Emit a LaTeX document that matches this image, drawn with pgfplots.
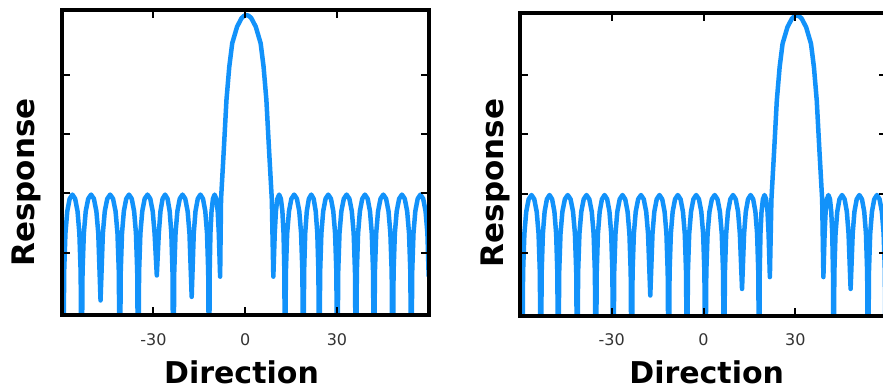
\documentclass[border=0pt]{standalone}
\usepackage{fontspec}
\setmainfont{DejaVu Sans}
\usepackage{pgfplots}
\pgfplotsset{compat=1.18}
\definecolor{beam}{RGB}{18,146,250}
\pgfplotsset{
  beamaxis/.style={
    scale only axis, anchor=south west,
    width=367pt,
    xmin=-60, xmax=60, ymin=-50.5,
    xtick={-30,0,30}, xticklabels={\mbox{-30},\mbox{0},\mbox{30}},
    ytick={-40,-30,-20,-10}, yticklabels={},
    tick align=inside, major tick length=8pt,
    tick style={line width=2pt,black},
    axis line style={line width=3.8pt},
    xticklabel style={font=\fontsize{16}{16}\selectfont, text=black!80, inner sep=0pt, anchor=north, yshift=-17.7pt},
    axis on top,
  },
  beamline/.style={beam, line width=4.5pt, line join=round, no marks}
}
\begin{document}
\begin{tikzpicture}
\useasboundingbox (0,0) rectangle (883pt,391pt);
\fill[white] (0,0) rectangle (883pt,391pt);
\clip (0,0) rectangle (883pt,391pt);
\begin{axis}[beamaxis, at={(61.7pt,75.7pt)}, height=305pt, ymax=0.8]
\addplot[beamline] coordinates {
(-59.5,-65)
(-59.2,-43.2) (-58.78,-36.7) (-58.18,-33.0) (-57.4,-30.9) (-56.5,-30.2) (-55.6,-30.9) (-54.82,-33.0) (-54.22,-36.7) (-53.8,-43.2) (-53.5,-65)
(-53.19,-43.2) (-52.76,-36.7) (-52.14,-33.0) (-51.33,-30.9) (-50.4,-30.2) (-49.47,-30.9) (-48.66,-33.0) (-48.04,-36.7) (-47.3,-48)
(-46.54,-36.7) (-45.91,-33.0) (-45.10,-30.9) (-44.15,-30.2) (-43.21,-30.9) (-42.39,-33.0) (-41.76,-36.7) (-41.32,-43.2) (-41.0,-65)
(-40.7,-43.2) (-40.28,-36.7) (-39.68,-33.0) (-38.9,-30.9) (-38.0,-30.2) (-37.1,-30.9) (-36.32,-33.0) (-35.72,-36.7) (-35.3,-43.2) (-35.0,-65)
(-34.70,-43.2) (-34.27,-36.7) (-33.66,-33.0) (-32.87,-30.9) (-31.95,-30.2) (-31.04,-30.9) (-30.24,-33.0) (-29.63,-36.7) (-28.9,-43.8)
(-28.25,-36.7) (-27.71,-33.0) (-27.01,-30.9) (-26.2,-30.2) (-25.39,-30.9) (-24.69,-33.0) (-24.15,-36.7) (-23.77,-43.2) (-23.5,-65)
(-23.2,-43.2) (-22.78,-36.7) (-22.18,-33.0) (-21.4,-30.9) (-20.5,-30.2) (-19.6,-30.9) (-18.82,-33.0) (-18.22,-36.7) (-17.5,-47.4)
(-16.82,-36.7) (-16.25,-33.0) (-15.51,-30.9) (-14.65,-30.2) (-13.80,-30.9) (-13.05,-33.0) (-12.48,-36.7) (-12.09,-43.2) (-11.8,-65)
(-11.62,-43.2) (-11.37,-36.7) (-11.01,-33.0) (-10.54,-30.9) (-10.0,-30.2) (-9.46,-30.9) (-8.99,-33.0) (-8.63,-36.7) (-8.2,-44)
(-7.9,-31) (-7.0,-22.7) (-6.13,-14.3) (-5.21,-8.7) (-4.25,-4.75) (-2.65,-1.95) (-1.17,-0.5) (-0.38,-0.13) (0.4,0) (1.18,-0.13) (1.97,-0.5) (3.45,-1.95) (5.05,-4.75) (6.01,-8.7) (6.93,-14.3) (7.8,-22.7) (8.7,-31) (9.2,-44)
(9.66,-36.7) (10.04,-33.0) (10.53,-30.9) (11.1,-30.2) (11.67,-30.9) (12.16,-33.0) (12.54,-36.7) (12.81,-43.2) (13.0,-65)
(13.3,-43.2) (13.72,-36.7) (14.32,-33.0) (15.1,-30.9) (16.0,-30.2) (16.9,-30.9) (17.68,-33.0) (18.28,-36.7) (18.7,-43.2) (19.0,-65)
(19.26,-43.2) (19.62,-36.7) (20.14,-33.0) (20.82,-30.9) (21.6,-30.2) (22.38,-30.9) (23.06,-33.0) (23.58,-36.7) (23.94,-43.2) (24.2,-65)
(24.50,-43.2) (24.91,-36.7) (25.50,-33.0) (26.27,-30.9) (27.15,-30.2) (28.04,-30.9) (28.80,-33.0) (29.39,-36.7) (29.81,-43.2) (30.1,-65)
(30.41,-43.2) (30.83,-36.7) (31.44,-33.0) (32.24,-30.9) (33.15,-30.2) (34.07,-30.9) (34.86,-33.0) (35.47,-36.7) (35.90,-43.2) (36.2,-65)
(36.50,-43.2) (36.91,-36.7) (37.50,-33.0) (38.27,-30.9) (39.15,-30.2) (40.04,-30.9) (40.80,-33.0) (41.39,-36.7) (41.81,-43.2) (42.1,-65)
(42.41,-43.2) (42.83,-36.7) (43.44,-33.0) (44.24,-30.9) (45.15,-30.2) (46.07,-30.9) (46.86,-33.0) (47.47,-36.7) (47.90,-43.2) (48.2,-65)
(48.51,-43.2) (48.93,-36.7) (49.54,-33.0) (50.34,-30.9) (51.25,-30.2) (52.17,-30.9) (52.96,-33.0) (53.57,-36.7) (54.00,-43.2) (54.3,-65)
(54.6,-43.2) (55.02,-36.7) (55.62,-33.0) (56.4,-30.9) (57.3,-30.2) (58.2,-30.9) (58.98,-33.0) (59.58,-36.7) (60,-44)
};
\end{axis}
\begin{axis}[beamaxis, at={(520pt,75.3pt)}, height=302.7pt, ymax=0.42]
\addplot[beamline] coordinates {
(-59.3,-65)
(-59.0,-43.2) (-58.57,-36.7) (-57.96,-33.0) (-57.17,-30.9) (-56.25,-30.2) (-55.34,-30.9) (-54.54,-33.0) (-53.93,-36.7) (-53.51,-43.2) (-53.2,-65)
(-52.92,-43.2) (-52.52,-36.7) (-51.95,-33.0) (-51.21,-30.9) (-50.35,-30.2) (-49.50,-30.9) (-48.75,-33.0) (-48.18,-36.7) (-47.79,-43.2) (-47.5,-65)
(-47.19,-43.2) (-46.76,-36.7) (-46.14,-33.0) (-45.33,-30.9) (-44.4,-30.2) (-43.47,-30.9) (-42.66,-33.0) (-42.04,-36.7) (-41.61,-43.2) (-41.3,-65)
(-41.0,-43.2) (-40.57,-36.7) (-39.96,-33.0) (-39.17,-30.9) (-38.25,-30.2) (-37.34,-30.9) (-36.54,-33.0) (-35.93,-36.7) (-35.51,-43.2) (-35.2,-65)
(-34.92,-43.2) (-34.52,-36.7) (-33.95,-33.0) (-33.21,-30.9) (-32.35,-30.2) (-31.50,-30.9) (-30.75,-33.0) (-30.18,-36.7) (-29.79,-43.2) (-29.5,-65)
(-29.2,-43.2) (-28.78,-36.7) (-28.18,-33.0) (-27.4,-30.9) (-26.5,-30.2) (-25.6,-30.9) (-24.82,-33.0) (-24.22,-36.7) (-23.8,-43.2) (-23.5,-65)
(-23.2,-43.2) (-22.77,-36.7) (-22.16,-33.0) (-21.37,-30.9) (-20.45,-30.2) (-19.54,-30.9) (-18.74,-33.0) (-18.13,-36.7) (-17.4,-47.1)
(-16.68,-36.7) (-16.08,-33.0) (-15.3,-30.9) (-14.4,-30.2) (-13.5,-30.9) (-12.72,-33.0) (-12.12,-36.7) (-11.7,-43.2) (-11.4,-65)
(-11.1,-43.2) (-10.68,-36.7) (-10.08,-33.0) (-9.3,-30.9) (-8.4,-30.2) (-7.5,-30.9) (-6.72,-33.0) (-6.12,-36.7) (-5.7,-43.2) (-5.4,-65)
(-5.1,-43.2) (-4.68,-36.7) (-4.08,-33.0) (-3.3,-30.9) (-2.4,-30.2) (-1.5,-30.9) (-0.72,-33.0) (-0.12,-36.7) (0.3,-43.2) (0.6,-65)
(0.91,-43.2) (1.33,-36.7) (1.94,-33.0) (2.74,-30.9) (3.65,-30.2) (4.57,-30.9) (5.36,-33.0) (5.97,-36.7) (6.40,-43.2) (6.7,-65)
(7.0,-43.2) (7.41,-36.7) (8.0,-33.0) (8.77,-30.9) (9.65,-30.2) (10.54,-30.9) (11.30,-33.0) (11.89,-36.7) (12.6,-46)
(13.27,-36.7) (13.83,-33.0) (14.56,-30.9) (15.4,-30.2) (16.24,-30.9) (16.97,-33.0) (17.53,-36.7) (17.92,-43.2) (18.2,-65)
(18.38,-43.2) (18.62,-36.7) (18.97,-33.0) (19.43,-30.9) (19.95,-30.2) (20.48,-30.9) (20.93,-33.0) (21.28,-36.7) (21.7,-44)
(22.2,-31) (23.1,-22.7) (23.97,-14.3) (24.89,-8.7) (25.85,-4.75) (27.45,-1.95) (28.93,-0.5) (29.72,-0.13) (30.5,0) (31.28,-0.13) (32.07,-0.5) (33.55,-1.95) (35.15,-4.75) (36.11,-8.7) (37.03,-14.3) (37.9,-22.7) (38.8,-31) (39.2,-44)
(39.60,-36.7) (39.93,-33.0) (40.36,-30.9) (40.85,-30.2) (41.35,-30.9) (41.77,-33.0) (42.10,-36.7) (42.34,-43.2) (42.5,-65)
(42.78,-43.2) (43.17,-36.7) (43.73,-33.0) (44.46,-30.9) (45.3,-30.2) (46.14,-30.9) (46.87,-33.0) (47.43,-36.7) (48.1,-46)
(48.78,-36.7) (49.35,-33.0) (50.10,-30.9) (50.95,-30.2) (51.81,-30.9) (52.55,-33.0) (53.12,-36.7) (53.52,-43.2) (53.8,-65)
(54.09,-43.2) (54.50,-36.7) (55.08,-33.0) (55.83,-30.9) (56.7,-30.2) (57.57,-30.9) (58.32,-33.0) (58.90,-36.7) (59.31,-43.2) (59.6,-65)
};
\end{axis}
\node[rotate=90, anchor=base, font=\fontsize{31}{31}\selectfont\bfseries] at (35pt,208.5pt) {Response};
\node[anchor=base, font=\fontsize{30}{30}\selectfont\bfseries] at (241.5pt,7.7pt) {Direction};
\node[rotate=90, anchor=base, font=\fontsize{31}{31}\selectfont\bfseries] at (503.7pt,208pt) {Response};
\node[anchor=base, font=\fontsize{30}{30}\selectfont\bfseries] at (706.7pt,7.7pt) {Direction};
\end{tikzpicture}
\end{document}
